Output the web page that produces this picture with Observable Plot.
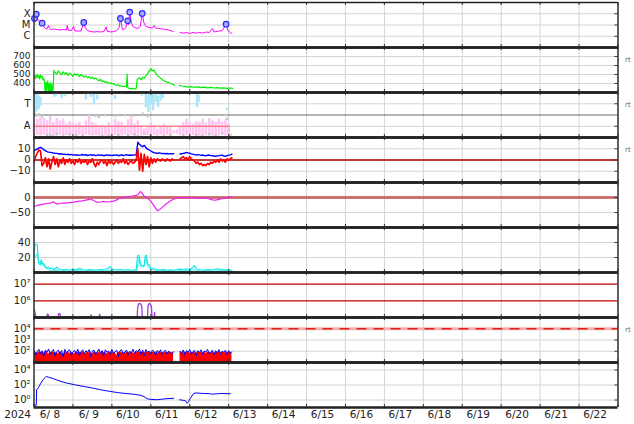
<!DOCTYPE html>
<html><head><meta charset="utf-8">
<script src="https://cdn.jsdelivr.net/npm/d3@7"></script>
<script src="https://cdn.jsdelivr.net/npm/@observablehq/plot@0.6"></script>
<style>
body{margin:0;background:#fff;overflow:hidden}
#chart{position:relative;width:634px;height:424px;background:#fff}
#chart svg{position:absolute;left:0}
</style></head><body><div id="chart"></div>
<script>
// ---------- time axis ----------
const T0 = Date.UTC(2024, 5, 8);
const yearLabel = "2024";
const dayLabels = ["6/ 8","6/ 9","6/10","6/11","6/12","6/13","6/14","6/15","6/16","6/17","6/18","6/19","6/20","6/21","6/22"];

// ---------- panel 1: X-ray flux ----------
const xrTicks = [1e-6, 1e-5, 1e-4];
const xrTickLabels = ["C", "M", "X"];
const xrH = [0,0.3,1.4,2.5,3.5,5,6,7,8,9,9.5,10,12,14,16,18,20,20.5,21,23,24.5,25,27,29,30.7,31.5,33,35,37,39,41,43,44.5,45,47,49,51,52.5,53.3,54.5,55.5,56.5,57.8,58.3,59,60,61,62,64,65.5,66.7,67.7,69,71,73,74,75,77,79,81,83,85.8,87,90,92,94,96,98,100,102,104,106,108,110,111,112,114,116,118.4,119.5,121,122];
const xrV = [4.7e-5,3.8e-5,9e-5,3.1e-5,1.9e-5,1.45e-5,7.4e-6,4.9e-6,4.4e-6,9e-6,4.9e-6,4e-6,4.4e-6,4e-6,3.6e-6,4e-6,3.6e-6,9e-6,3.6e-6,3.2e-6,7.4e-6,3.2e-6,2.9e-6,2.9e-6,1.67e-5,6e-6,3.2e-6,2.6e-6,2.4e-6,2.6e-6,2.4e-6,2.6e-6,6.6e-6,2.9e-6,2.4e-6,2.6e-6,3.2e-6,6e-6,3.8e-5,4e-6,4e-6,6e-6,2.35e-5,1.1e-5,1.4e-4,1.67e-5,7.4e-6,6e-6,4.9e-6,7.4e-6,1.05e-4,1.67e-5,7.4e-6,6e-6,5.4e-6,9e-6,5.4e-6,4.9e-6,4.4e-6,4e-6,3.6e-6,2.6e-6,null,2.15e-6,1.9e-6,2.15e-6,1.75e-6,2.15e-6,1.9e-6,2.15e-6,1.9e-6,2.4e-6,2.15e-6,4.9e-6,2.4e-6,2.6e-6,2.9e-6,3.2e-6,1.18e-5,3.2e-6,2.15e-6,1.75e-6];
const flareH = [0.3,1.4,5,30.7,53.3,57.8,59,66.7,118.4];
const flareV = [3.8e-5,9e-5,1.45e-5,1.67e-5,3.8e-5,2.35e-5,1.4e-4,1.05e-4,1.18e-5];

// ---------- panel 2: solar wind speed ----------
const spTicks = [400, 500, 600, 700];
const spH = [0,0.5,1,1.5,2,2.5,3,3.5,4,4.5,5,5.5,6,6.5,7,7.3,7.6,8,8.5,9,9.3,9.6,10,10.5,11,11.5,12,12.2,13,14,15,16,17,18,19,20,21,22,23,24,25,26,27,28,29,30,31,32,33,34,35,36,37,38,39,40,41,42,43,44,45,46,47,48,49,50,51,52,53,54,55,56,57,57.4,57.7,58,59,60,61,62,63,63.6,64,65,66,67,68,69,70,71,72,73,74,75,76,77,78,79,80,81,82,83,84,85,86,86.6,87,89.5,91,93,95,97,99,101,103,105,107,109,111,113,115,117,119,121,122.5];
const spV = [470,490,455,480,500,465,485,450,495,470,480,440,455,420,250,410,260,400,430,250,390,270,410,250,400,260,420,545,520,505,540,515,495,530,505,520,490,515,500,480,510,495,505,480,500,485,470,485,465,475,455,470,450,460,445,430,445,420,430,410,420,400,410,395,400,385,378,385,370,375,365,370,360,505,362,352,345,340,348,338,345,445,450,465,440,470,460,485,510,540,565,540,550,515,490,475,460,445,430,425,415,410,400,395,385,380,null,380,372,368,360,365,358,362,355,360,352,356,350,354,348,352,346,350,345];

// ---------- panel 3: IMF sector (T / A) ----------
const secTicks = [90, 270];
const secTickLabels = ["A", "T"];
const awayH = [0,2,4,6,8,10,12,14,16,18,20,22,24,26,28,30,32,34,36,38,40,42,44,46,48,50,52,54,56,58,60,62,64,66,68,70,72,74,76,78,80,82,84,86,88,90,92,94,96,98,100,102,104,106,108,110,112,114,116,118,120];
const awayHi = [107,147,160,152,133,168,120,152,133,147,107,125,115,107,120,93,133,168,120,107,93,99,80,120,99,147,125,120,93,141,152,107,133,93,67,80,115,99,67,88,107,93,80,53,60,93,120,147,115,107,125,120,147,115,152,133,120,147,125,141,107];
const awayLo = [25,15,12,18,14,10,20,12,16,11,15,22,13,10,18,12,20,14,11,16,13,19,12,15,10,17,14,12,20,11,15,13,18,10,22,14,12,16,11,19,13,15,10,30,25,14,12,17,10,15,13,11,18,12,16,10,14,12,17,11,15];
const towardH = [0,1,2,3,4,12.5,13.5,17,19,32,35,37,39,50,66.5,69,70.5,72,73.5,75,76.5,78,79.5,100.5,101.5,119];
const towardLo = [210,200,215,225,250,320,330,310,325,300,320,260,300,305,330,240,200,260,215,280,240,290,310,240,280,215];
const towardHi = [330,345,340,330,320,345,350,345,350,345,350,345,340,335,350,345,350,340,345,350,330,345,345,345,340,235];
const grayH = [0.5,1.5,2.5,3,5,8,10,12,14,18,22,26,30,33,34,36,38,40,42,44,46,48,50,52,54,56,58,60,62,64,66,67,68,70,72,80,84,92,96,100,104,108,112,116,118,119,120,121];
const grayA = [190,175,350,185,170,20,15,12,30,10,25,18,12,355,180,350,175,165,15,180,12,350,175,20,355,180,15,172,25,12,355,190,30,170,15,10,20,15,10,20,12,25,15,35,180,150,60,20];

// ---------- panel 4: IMF Bt / Bz ----------
const bTicks = [-10, 0, 10];
const bTickLabels = ["\u221210", "0", "10"];
const btV = [8.2,9,9.8,10.7,11.3,10.4,9.2,8.3,7.4,7,
 6.8,6.5,6.2,6,5.9,5.6,5.3,5.5,5,5.2,
 4.8,5.1,4.6,5,4.4,4.8,4.2,4.6,4.1,4.5,
 4.9,4.3,4.7,4,4.4,4.8,4.2,4.5,3.9,4.3,
 4.6,4.1,4.4,3.8,4.2,4.5,4,4.3,3.9,4.4,
 4.1,4.5,3.8,4.2,4.6,4,4.3,4.7,4.1,4.4,
 4.2,4.6,4.3,4.8,15.8,14,12.6,11.8,13,11,
 9.6,8.9,8,7.1,6.5,6.2,5.9,6.3,6.1,5.7,
 5.9,5.6,5.8,5.4,5.7,5.5,5.6,null,null,null,
 5.3,5.6,5.9,6.2,6.8,6.3,6,5.5,5.2,4.8,
 4.4,4.8,4.5,4.1,4.4,4,3.8,4.2,4.4,3.9,
 3.8,3.5,3.3,3.7,3.8,4.1,4.3,3.6,3.3,3.9,
 4.3,4.6,5.2];
const bzV = [-2,3,6,9,8,-5,-3,2,-6,1,
 -8,-2,3,-4,1,-6,0,-3,2,-4,
 0,-2,1,-3,-1,-4,0,-2,1,-3,
 -1,-2,0,-4,-1,-2,1,-3,-6,-2,
 -4,-1,0,-3,-1,-5,0,-3,-1,-4,
 -2,0,-3,-1,-2,1,-3,-1,-4,-2,
 -1,-3,-2,0,10,-9,6,-10,5,-4,
 3,-6,2,-3,1,-2,1,0,-1,1,
 0,-1,1,0,-1,1,0,null,null,null,
 1,2,3,1,2,0,3,1,0,-1,
 -3,-2,-4,-3,-5,-4,-5,-3,-4,-2,
 -3,-1,-2,0,-2,1,-1,0,-2,1,
 0,1,2];

// ---------- panel 5: Dst ----------
const dstTicks = [-50, 0];
const dstTickLabels = ["\u221250", "0"];
const dstH = [0,2,4,6,8,10,12,14,16,18,20,22,24,26,28,30,32,34,35,37,39,41,43,45,47,49,51,53,55,57,59,61,63,64,65.6,67,68,70,72,74,76,77,79,82,84,86,88,90,92,94,96,98,100,102,104,106,108,110,112,114,116,118,120,122];
const dstV = [-30,-26,-24,-22,-20,-19,-14,-22,-20,-19,-18,-17,-16,-14,-12,-11,-9,-6,-5,-11,-16,-15,-13,-15,-14,-12,-8,-2,0,1,4,5,7,9,20,12,4,-3,-12,-28,-44,-42,-33,-19,-12,-6,-2,0,-1,-1,0,0,-2,-3,-2,-1,-5,-8,-9,-6,-3,-2,1,2];

// ---------- panel 6: cyan index ----------
const cyTicks = [20, 40];
const cyAH = [0,0.5,1,2,2.5,3,4,4.5,5,6,7,8,9,10,11,12,13,14,15,16,18,20,22,24,26,28,30,32,34,36,38,40,42,44,46,47,48,50,52,54,56,58,60,62,63,63.8,64.7,65.3,66,67,68,68.6,69.3,70,71,72,74,76,78,80,82,84,86,88,90,92,94,96,98,99,100,102,104,106,108,110,112,114,116,118,120,122];
const cyAV = [20,37,38,37,20,14,12,17,11,12,8,6,7,5,6,4,5,7,5,4,3.5,4,3,4.5,3.5,5.5,4,3,4,3.5,3,4,3.5,4,6,8,5,4,3.5,4,3,4,3,3.5,4,22,23,12,10,9,10,22,23,12,10,6,5,4,3.5,4,3,3.5,3,4,4.5,3.5,5,4,7,9,5,4,3,3.5,4,3,4.5,5,3.5,4,3.5,3];
const cyBH = [0,1,2,3,4,5,6,7,8,10,12,14,16,18,20,22,24,26,28,30,32,34,36,38,40,42,44,46,48,50,52,54,56,58,60,62,63.5,64.3,65,66,67,68,69,70,71,72,74,76,78,80,82,84,86,88,90,92,94,96,98,100,102,104,106,108,110,112,114,116,118,120,122];
const cyBV = [18,21,25,11,10,14,9,7,5,3,2.5,3,2,2.5,2,1.5,2,2.5,3,2,1.5,2.5,2,1.5,2,2.5,2,3,2.5,2,1.5,2,1.5,2,1.5,2,3,14,20,8,7,9,20,10,7,5,3,2.5,2,2.5,1.5,2,1.5,2,2.5,2,3,2,4,3,2,1.5,2,2.5,1.5,2,3,2,2.5,2,1.5];

// ---------- panel 7: electron flux ----------
const efTicks = [1e6, 1e7];
const efTickLabels = ["10\u2076", "10\u2077"];
const efLevels = [1e6, 1e7];
const efH = [0,0.4,0.8,1.2,1.6,7.5,8.2,8.8,9.4,14.5,15.2,16,16.6,34.5,35.2,35.9,39.8,40.5,41.2,63.4,63.9,64.4,65.2,66,66.5,66.9,69.8,70.3,70.9,71.7,72.4,72.9,73.8,74.3,74.8,83.5,84,84.5,108,108.7,109.4,112.3,112.9,113.5,122];
const efV = [3e5,2.5e5,1.6e5,1e5,5e4,5e4,1.6e5,1.5e5,5e4,5e4,1.7e5,1.7e5,5e4,5e4,1.5e5,5e4,5e4,1.6e5,5e4,5e4,4e5,6.5e5,6.8e5,6.2e5,4e5,5e4,5e4,5e5,6.8e5,6.5e5,4.5e5,5e4,5e4,2e5,5e4,5e4,1.1e5,5e4,5e4,1.15e5,5e4,5e4,1.1e5,5e4,5e4];

// ---------- panel 8: proton flux ----------
const pfTicks = [1e2, 1e3, 1e4];
const pfTickLabels = ["10\u00b2", "10\u00b3", "10\u2074"];
const pfLevel = [1e4];
const pfRed = [70,85,60,90,75,88,65,92,80,55,
 85,72,90,68,82,60,88,75,45,85,
 70,90,62,80,78,58,88,72,84,66,
 90,74,60,86,70,82,52,88,76,68,
 90,64,80,72,86,58,84,70,92,66,
 78,40,85,74,88,62,80,70,90,65,
 84,72,56,88,76,92,70,85,60,95,
 78,88,66,82,74,90,60,85,72,80,
 68,88,62,84,76,70,86,null,null,null,
 75,88,62,84,70,90,66,80,74,86,
 58,88,72,82,68,90,64,84,76,70,
 88,60,82,74,90,66,86,72,80,62,
 88,76,70];
const pfBlue = [120,45,95,150,60,110,35,130,80,160,
 50,100,140,40,90,125,55,115,30,145,
 70,105,135,45,85,120,60,150,40,95,
 130,55,110,75,140,35,100,125,50,90,
 155,65,115,40,135,80,105,50,145,60,
 95,120,35,110,140,55,85,130,45,100,
 70,150,60,115,90,160,50,125,40,140,
 75,105,55,130,85,45,115,70,135,50,
 95,120,60,100,80,55,90,null,null,null,
 100,60,130,45,115,80,140,55,95,120,
 40,110,75,135,50,105,90,145,60,85,
 125,45,110,70,140,55,100,80,125,50,
 115,65,90];

// ---------- panel 9: blue index ----------
const p9Ticks = [1, 1e2, 1e4];
const p9TickLabels = ["10\u2070", "10\u00b2", "10\u2074"];
const p9H = [0,1.4,1.6,2.3,3,4,5.5,7.1,7.7,9,12.2,16,20.4,25,30.7,36,41,46,51.3,56,61.5,65,67.7,69.7,72,75.9,79,82,86.1,87,89.8,92,93.3,94.4,95.2,96.4,98.5,100.5,104,108,110,112.9,116,119,121];
const p9V = [0.19,0.2,25,31,60,140,500,1100,1350,1100,660,330,175,110,63,40,23,15,10,7.5,5.9,4.5,3,1.45,1.2,1.07,1.3,1.5,1.7,null,1.07,0.9,0.8,0.37,0.6,1.7,8,8.5,7.5,7,6,6.8,7.5,7,6.8];

// ---------- helpers ----------
const toDate = h => new Date(T0 + h * 3600e3);
const days = d3.range(16).map(i => new Date(T0 + i * 864e5));
const noons = d3.range(15).map(i => new Date(T0 + (i + 0.5) * 864e5));
const pairs = (H, V) => H.map((h, i) => ({t: toDate(h), v: V[i]}));
const hourly = V => V.map((v, i) => ({t: toDate(i), v}));
const ranges = (H, lo, hi) => H.map((h, i) => ({t: toDate(h), lo: lo[i], hi: hi[i]}));
const fmt = (ticks, labels) => d => labels[ticks.indexOf(d)];

const W = 634, ML = 33.5, MR = 16.5, PH = 45, PW = W - ML - MR;
const chart = document.getElementById("chart");

function panel(i, cfg) {
  const bottom = !!cfg.bottom;
  const extra = bottom ? 18 : 0;
  const grid = cfg.grid || [];
  const marks = [
    Plot.ruleX(days, {stroke: "#d4d4d4", strokeWidth: 1}),
    Plot.ruleY(grid, {stroke: "#d4d4d4", strokeWidth: 1}),
    ...(cfg.marks || []),
    Plot.tickX(days, {stroke: "#333", insetBottom: PH - 3}),
    Plot.tickX(days, {stroke: "#333", insetTop: PH - 3}),
    Plot.tickY(grid, {stroke: "#333", insetLeft: PW - 3}),
    Plot.ruleX([days[0], days[15]], {stroke: "#333", strokeWidth: 1.5}),
    Plot.ruleY([cfg.y.domain[1]], {stroke: "#222", strokeWidth: i === 0 ? 1.5 : 2.5}),
    Plot.ruleY([cfg.y.domain[0]], {stroke: "#222", strokeWidth: 2.5})
  ];
  if (cfg.rt) marks.push(Plot.text(["rt"], {text: d => d, frameAnchor: "top-right", dx: 7, dy: 10, textAnchor: "start", fontSize: 7, fill: "#666"}));
  if (bottom) {
    marks.push(Plot.text(noons, {x: d => d, text: (d, j) => dayLabels[j], frameAnchor: "bottom", dy: 10, dx: -3.5, fontSize: 10.5}));
    marks.push(Plot.text([yearLabel], {x: () => days[0], text: d => d, frameAnchor: "bottom", dy: 10, dx: -3, textAnchor: "end", fontSize: 10.5}));
  }
  const svg = Plot.plot({
    width: W, height: PH + 4 + extra,
    marginLeft: ML, marginRight: MR, marginTop: 2, marginBottom: 2 + extra,
    style: {background: "transparent", overflow: "visible", fontFamily: "DejaVu Sans", fontSize: (cfg.fontSize || 10) + "px", color: "#222"},
    x: {type: "utc", domain: [days[0], days[15]], axis: null},
    y: {...cfg.y, tickSize: 0, tickPadding: 3.5, label: null},
    marks
  });
  svg.style.top = (45 * i) + "px";
  chart.append(svg);
}

// 1 X-ray
panel(0, {
  y: {type: "log", domain: [1e-7, 1e-3], ticks: xrTicks, tickFormat: fmt(xrTicks, xrTickLabels)},
  grid: xrTicks,
  marks: [
    Plot.line(pairs(xrH, xrV), {x: "t", y: "v", stroke: "#ff00ff", strokeWidth: 1, clip: true}),
    Plot.dot(pairs(flareH, flareV), {x: "t", y: "v", r: 2.8, stroke: "#2a2aff", fill: "#a8a8ff", strokeWidth: 1.2})
  ]
});
// 2 speed
panel(1, {
  y: {domain: [300, 800], ticks: spTicks},
  grid: spTicks, rt: true, fontSize: 9,
  marks: [Plot.line(pairs(spH, spV), {x: "t", y: "v", stroke: "#00ee00", strokeWidth: 1.2, clip: true})]
});
// 3 sector
panel(2, {
  y: {domain: [0, 360], ticks: secTicks, tickFormat: fmt(secTicks, secTickLabels)},
  grid: [90, 270], rt: true,
  marks: [
    Plot.ruleY([180], {stroke: "#666", strokeWidth: 1}),
    Plot.ruleX(ranges(awayH, awayLo, awayHi), {x: "t", y1: "lo", y2: "hi", stroke: "#ffc4f2", strokeWidth: 2.6}),
    Plot.ruleX(ranges(towardH, towardLo, towardHi), {x: "t", y1: "lo", y2: "hi", stroke: "#aae6fa", strokeWidth: 2.4}),
    Plot.dot(pairs(grayH, grayA), {x: "t", y: "v", symbol: "square", r: 1.4, fill: "#c8c8c8"}),
    Plot.ruleY([90], {x1: toDate(awayH[0]), x2: toDate(121), stroke: "#ff5a5a", strokeWidth: 1})
  ]
});
// 4 IMF
panel(3, {
  y: {domain: [-20, 20], ticks: bTicks, tickFormat: fmt(bTicks, bTickLabels)},
  grid: bTicks, rt: true,
  marks: [
    Plot.ruleY([0], {stroke: "#b00000", strokeWidth: 1.3}),
    Plot.line(hourly(btV), {x: "t", y: "v", stroke: "#0000ff", strokeWidth: 1.4, clip: true}),
    Plot.line(hourly(bzV), {x: "t", y: "v", stroke: "#ff0000", strokeWidth: 1.7, clip: true})
  ]
});
// 5 Dst
panel(4, {
  y: {domain: [-100, 50], ticks: dstTicks, tickFormat: fmt(dstTicks, dstTickLabels)},
  grid: dstTicks,
  marks: [
    Plot.ruleY([0], {stroke: "#c04848", strokeOpacity: 0.75, strokeWidth: 3}),
    Plot.line(pairs(dstH, dstV), {x: "t", y: "v", stroke: "#ee22ee", strokeWidth: 1.2, clip: true})
  ]
});
// 6 cyan
panel(5, {
  y: {domain: [0, 60], ticks: cyTicks},
  grid: cyTicks,
  marks: [
    Plot.line(pairs(cyBH, cyBV), {x: "t", y: "v", stroke: "#55f4f4", strokeWidth: 1.2, clip: true}),
    Plot.line(pairs(cyAH, cyAV), {x: "t", y: "v", stroke: "#10e8e8", strokeWidth: 1.2, clip: true})
  ]
});
// 7 electrons
panel(6, {
  y: {type: "log", domain: [1e5, 5e7], ticks: efTicks, tickFormat: fmt(efTicks, efTickLabels)},
  grid: [],
  marks: [
    Plot.ruleY(efLevels, {stroke: "#c00000", strokeWidth: 1.3}),
    Plot.line(pairs(efH, efV), {x: "t", y: "v", stroke: "#a040d8", strokeWidth: 1.3, clip: true})
  ]
});
// 8 protons
panel(7, {
  y: {type: "log", domain: [10, 1e5], ticks: pfTicks, tickFormat: fmt(pfTicks, pfTickLabels)},
  grid: [1e2, 1e3], rt: true,
  marks: [
    Plot.ruleY(pfLevel, {stroke: "#f4b0b0", strokeWidth: 3}),
    Plot.ruleY(pfLevel, {stroke: "#e02020", strokeWidth: 1.5, strokeDasharray: "10,7"}),
    Plot.areaY(hourly(pfRed), {x: "t", y1: 10, y2: "v", fill: "#ff0000", clip: true}),
    Plot.line(hourly(pfBlue), {x: "t", y: "v", stroke: "#0000ff", strokeWidth: 1, clip: true})
  ]
});
// 9 blue index + date axis
panel(8, {
  y: {type: "log", domain: [0.1, 1e5], ticks: p9Ticks, tickFormat: fmt(p9Ticks, p9TickLabels)},
  grid: p9Ticks, bottom: true,
  marks: [Plot.line(pairs(p9H, p9V), {x: "t", y: "v", stroke: "#0000ff", strokeWidth: 1, clip: true})]
});
</script></body></html>
